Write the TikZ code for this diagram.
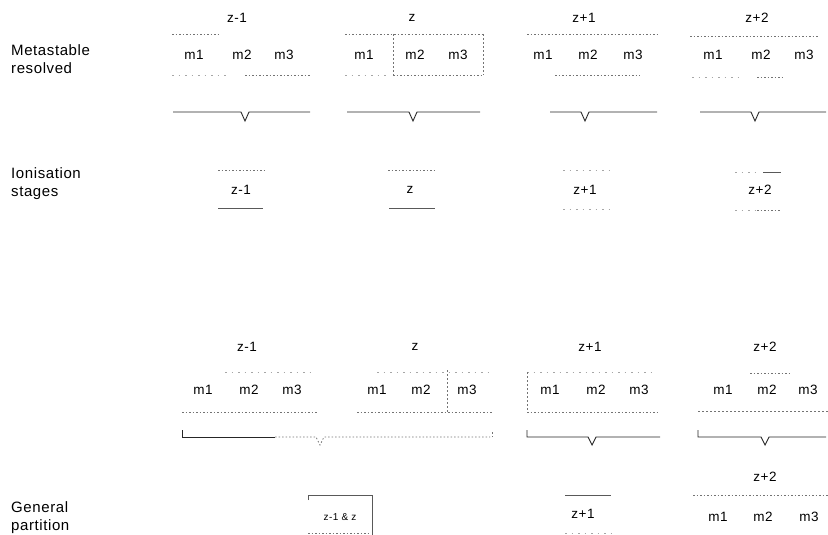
\documentclass[tikz,border=0pt]{standalone}
\usepackage{fontspec}
\setmainfont{Liberation Sans}[LetterSpace=4]
\begin{document}
\begin{tikzpicture}[x=1pt,y=-1pt,
  lbl/.style={font=\fontsize{15}{18}\selectfont, align=left, anchor=west, inner sep=0pt},
  mtxt/.style={font=\fontsize{13.5}{15}\selectfont, inner sep=1pt},
  smalltxt/.style={font=\fontsize{10}{12}\selectfont, inner sep=1pt},
  dotl/.style={draw=black!55, dash pattern=on 1.5pt off 2pt, line width=0.7pt},
  faintl/.style={draw=black!35, dash pattern=on 1.5pt off 5pt, line width=0.7pt},
  vdash/.style={draw=black!55, dash pattern=on 2pt off 2pt, line width=0.7pt},
  solidl/.style={draw=black!65, line width=0.8pt},
  brc/.style={draw=black!85, line width=0.9pt}]
\useasboundingbox (0,0) rectangle (828,535);

% ---------- row labels ----------
\node[lbl] (lblmeta) at (11,59) {Metastable\\resolved};
\node[lbl] (lblion) at (11,184) {Ionisation\\stages};
\node[lbl] (lblgen) at (11,518) {General\\partition};

% ---------- top section: headers ----------
\node[mtxt] (ha) at (237,18) {z-1};
\node[mtxt] (hb) at (412,18) {z};
\node[mtxt] (hc) at (584,18) {z+1};
\node[mtxt] (hd) at (757,18) {z+2};

% m rows
\node[mtxt] (a1) at (194,55) {m1};
\node[mtxt] (a2) at (242,55) {m2};
\node[mtxt] (a3) at (284,55) {m3};
\node[mtxt] (b1) at (364,55) {m1};
\node[mtxt] (b2) at (415,55) {m2};
\node[mtxt] (b3) at (458,55) {m3};
\node[mtxt] (c1) at (543,55) {m1};
\node[mtxt] (c2) at (588,55) {m2};
\node[mtxt] (c3) at (633,55) {m3};
\node[mtxt] (d1) at (713,55) {m1};
\node[mtxt] (d2) at (761,55) {m2};
\node[mtxt] (d3) at (804,55) {m3};

% dotted boxes (top)
\draw[dotl] (172,34) -- (220,34);
\draw[dotl] (245,75) -- (310,75);
\draw[faintl] (172,75) -- (230,75);
\draw[dotl] (345,34) -- (483,34);
\draw[vdash] (393,34) -- (393,75);
\draw[vdash] (483,34) -- (483,75);
\draw[dotl] (393,75) -- (483,75);
\draw[faintl] (345,75) -- (390,75);
\draw[dotl] (527,34) -- (657,34);
\draw[dotl] (555,75) -- (640,75);
\draw[dotl] (690,36) -- (818,36);
\draw[faintl] (692,77) -- (740,77);
\draw[dotl] (757,77) -- (783,77);

% braces (top)
\draw[brc] (173,112) -- (241,112) -- (245,121) -- (249,112) -- (310,112);
\draw[brc] (347,112) -- (409,112) -- (413,121) -- (417,112) -- (480,112);
\draw[brc] (550,112) -- (581,112) -- (585,121) -- (589,112) -- (657,112);
\draw[brc] (700,112) -- (751,112) -- (755,121) -- (759,112) -- (826,112);

% ---------- ionisation stages ----------
\node[mtxt] (ia) at (241,190) {z-1};
\node[mtxt] (ib) at (410,190) {z};
\node[mtxt] (ic) at (585,190) {z+1};
\node[mtxt] (id) at (760,190) {z+2};
\draw[dotl] (218,170) -- (265,170);
\draw[solidl] (218,208) -- (263,208);
\draw[dotl] (388,170) -- (435,170);
\draw[solidl] (389,208) -- (435,208);
\draw[faintl] (563,170) -- (610,170);
\draw[faintl] (563,209) -- (610,209);
\draw[faintl] (735,172) -- (760,172);
\draw[solidl] (763,172) -- (781,172);
\draw[faintl] (735,210) -- (756,210);
\draw[dotl] (757,210) -- (781,210);

% ---------- lower section: headers ----------
\node[mtxt] (ga) at (247,347) {z-1};
\node[mtxt] (gb) at (415,347) {z};
\node[mtxt] (gc) at (590,347) {z+1};
\node[mtxt] (gd) at (765,347) {z+2};

\node[mtxt] (e1) at (203,390) {m1};
\node[mtxt] (e2) at (249,390) {m2};
\node[mtxt] (e3) at (292,390) {m3};
\node[mtxt] (f1) at (377,390) {m1};
\node[mtxt] (f2) at (421,390) {m2};
\node[mtxt] (f3) at (467,390) {m3};
\node[mtxt] (k1) at (550,390) {m1};
\node[mtxt] (k2) at (596,390) {m2};
\node[mtxt] (k3) at (639,390) {m3};
\node[mtxt] (l1) at (723,390) {m1};
\node[mtxt] (l2) at (767,390) {m2};
\node[mtxt] (l3) at (808,390) {m3};

% dotted boxes (lower)
\draw[faintl] (225,372) -- (312,372);
\draw[dotl] (182,412) -- (318,412);
\draw[faintl] (377,372) -- (492,372);
\draw[dotl] (357,412) -- (492,412);
\draw[vdash] (447,370) -- (447,412);
\draw[faintl] (527,372) -- (657,372);
\draw[vdash] (527,372) -- (527,412);
\draw[dotl] (527,412) -- (660,412);
\draw[dotl] (750,373) -- (790,373);
\draw[vdash] (698,411) -- (828,411);

% braces (lower)
\coordinate (bl) at (182,430);
\coordinate (br) at (492,430);
\draw[brc] (bl) -- (182,437) -- (275,437);
\draw[dotl] (275,437) -- (316,437) -- (320,445) -- (324,437) -- (490,437);
\draw[dotl] (492,437) -- (br);
\draw[brc] (527,430) -- (527,437) -- (588,437) -- (592,445) -- (596,437) -- (660,437);
\draw[brc] (698,430) -- (698,437) -- (761,437) -- (765,445) -- (769,437) -- (826,437);

% ---------- general partition ----------
\node[smalltxt] (pab) at (340,517) {z-1 \& z};
\draw[solidl] (308,500) -- (308,495) -- (372,495) -- (372,535);
\draw[dotl] (308,533) -- (370,533);

\node[mtxt] (pc) at (583,514) {z+1};
\draw[solidl] (565,495) -- (611,495);
\draw[faintl] (565,533) -- (611,533);

\node[mtxt] (pdh) at (765,477) {z+2};
\draw[dotl] (693,495) -- (828,495);
\node[mtxt] (p1) at (718,517) {m1};
\node[mtxt] (p2) at (763,517) {m2};
\node[mtxt] (p3) at (809,517) {m3};
\end{tikzpicture}
\end{document}
